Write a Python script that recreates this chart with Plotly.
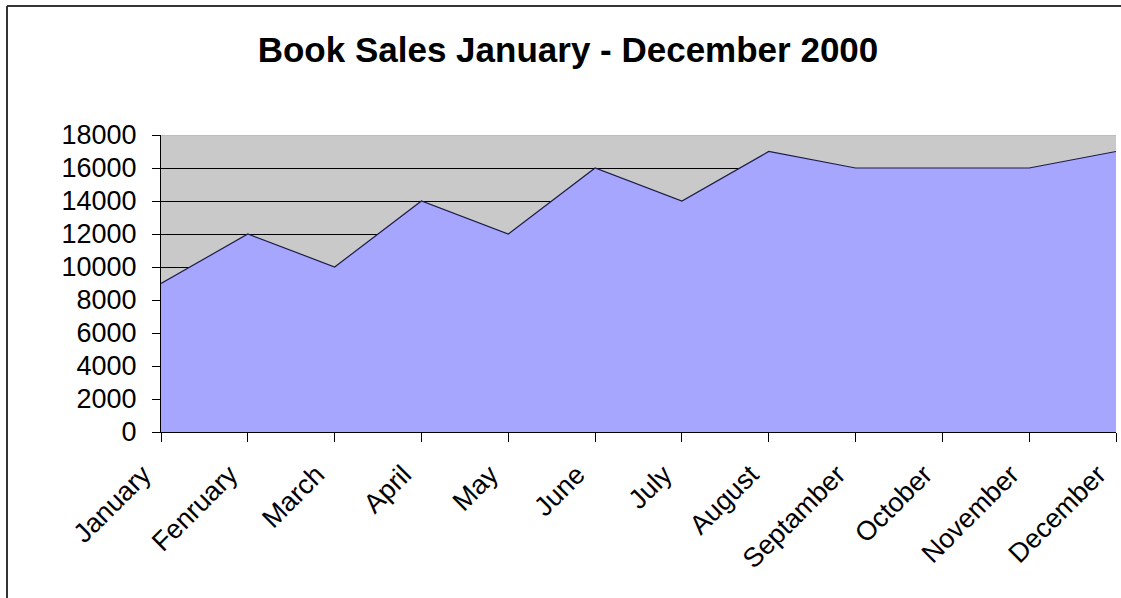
import plotly.graph_objects as go

months = ["January", "Fenruary", "March", "April", "May", "June", "July",
          "August", "Septamber", "October", "November", "December"]
sales = [9000, 12000, 10000, 14000, 12000, 16000, 14000, 17000, 16000, 16000, 16000, 17000]
y_ticks = [0, 2000, 4000, 6000, 8000, 10000, 12000, 14000, 16000, 18000]

W, H = 1121, 598
ml, mr, mt, mb = 161, 5, 135, 166
pw, ph = W - ml - mr, H - mt - mb

x_idx = list(range(len(months)))

fig = go.Figure()
fig.add_trace(go.Scatter(
    x=x_idx, y=sales, mode="lines", fill="tozeroy",
    fillcolor="#A6A6FF", line=dict(color="#1C1C48", width=1.2),
    hoverinfo="skip", showlegend=False,
))

fig.update_layout(
    width=W, height=H,
    margin=dict(l=ml, r=mr, t=mt, b=mb),
    paper_bgcolor="white", plot_bgcolor="#C9C9C9",
    font=dict(family="Liberation Sans, Arial, sans-serif", color="black", size=27),
    title=dict(text="<b>Book Sales January - December 2000</b>",
               x=568 / W, xanchor="center", y=1 - 50 / H, yanchor="middle",
               font=dict(size=35, color="black")),
    xaxis=dict(range=[0, len(months) - 1], tickvals=x_idx, ticktext=months,
               tickangle=-45, ticks="outside", ticklen=9, tickcolor="black",
               showline=True, linecolor="black", linewidth=1, showgrid=False,
               zeroline=False, tickfont=dict(size=27),
               ticklabeloverflow="allow", ticklabelshift=-18, ticklabelstandoff=6),
    yaxis=dict(range=[0, 18000], tickvals=y_ticks, tickformat="d",
               ticks="outside", ticklen=8,
               tickcolor="black", showline=True, linecolor="black", linewidth=1,
               showgrid=True, gridcolor="black", gridwidth=1, zeroline=False,
               tickfont=dict(size=27), ticklabelstandoff=10),
    shapes=[
        dict(type="line", xref="x", yref="y", x0=0, x1=len(months) - 1, y0=18000, y1=18000,
             line=dict(color="#B4B4B4", width=1), layer="above"),
        dict(type="line", xref="paper", yref="paper",
             x0=-(ml - 7) / pw, x1=-(ml - 7) / pw, y0=1 + (mt - 6) / ph, y1=-(mb) / ph,
             line=dict(color="#333333", width=2)),
        dict(type="line", xref="paper", yref="paper",
             x0=-(ml - 7) / pw, x1=1 + mr / pw, y0=1 + (mt - 6) / ph, y1=1 + (mt - 6) / ph,
             line=dict(color="#333333", width=2)),
    ],
)

fig.write_html(
    "out.html",
    config={"displayModeBar": False},
    post_script="document.body.style.margin='0';document.body.style.overflow='hidden';",
)
